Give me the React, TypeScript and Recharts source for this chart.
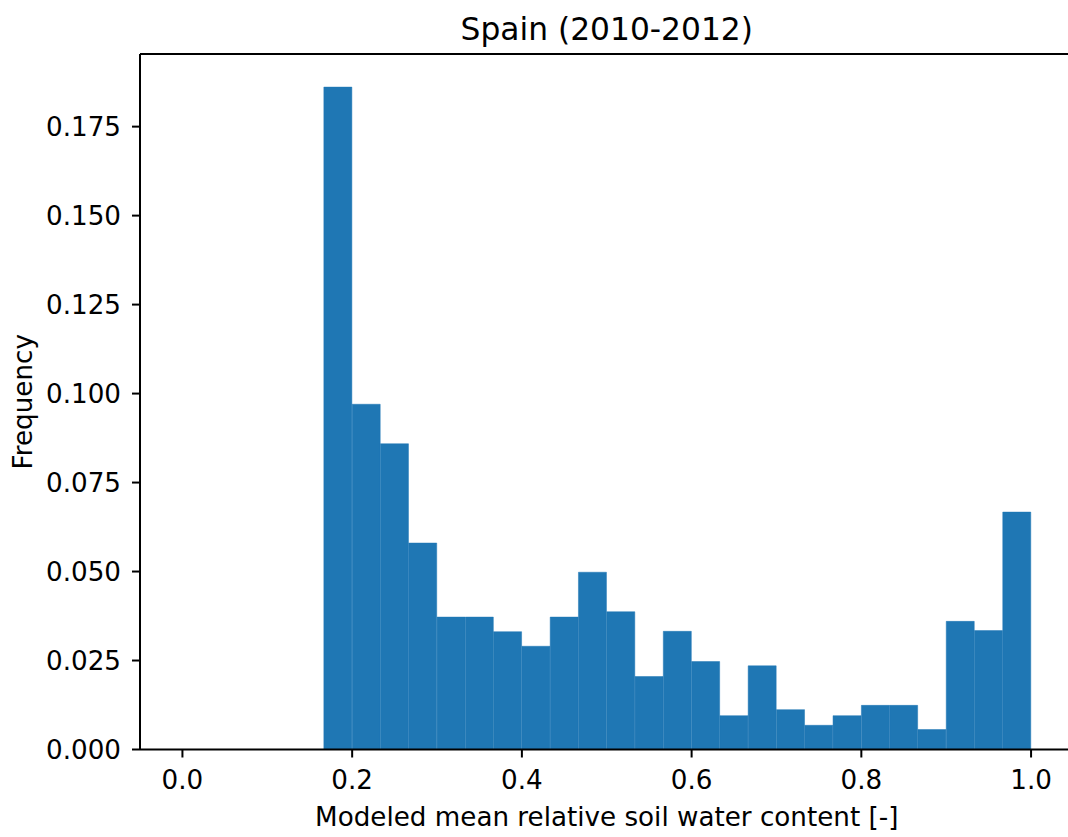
import { BarChart, Bar, XAxis, YAxis, ReferenceLine, Label } from "recharts";

// histogram of 30 bins over [0, 1], bin centres
const binCenters = [
  0.0167, 0.05, 0.0833, 0.1167, 0.15, 0.1833, 0.2167, 0.25, 0.2833, 0.3167,
  0.35, 0.3833, 0.4167, 0.45, 0.4833, 0.5167, 0.55, 0.5833, 0.6167, 0.65,
  0.6833, 0.7167, 0.75, 0.7833, 0.8167, 0.85, 0.8833, 0.9167, 0.95, 0.9833,
];
const frequency = [
  0, 0, 0, 0, 0, 0.1861, 0.097, 0.0859, 0.058, 0.0372,
  0.0372, 0.0331, 0.029, 0.0372, 0.0498, 0.0387, 0.0205, 0.0332, 0.0247, 0.0095,
  0.0235, 0.0112, 0.0068, 0.0095, 0.0124, 0.0124, 0.0056, 0.036, 0.0334, 0.0667,
];
const xTicks = [0, 0.2, 0.4, 0.6, 0.8, 1.0];
const yTicks = [0, 0.025, 0.05, 0.075, 0.1, 0.125, 0.15, 0.175];

const xDomain: [number, number] = [-0.05, 1.05];
const yTop = Math.max(...frequency) * 1.05;

const data = binCenters.map((x, i) => ({ x, freq: frequency[i] }));

const W = 1100;
const H = 837;
const left = 140;
const right = 26.5;

const font = "DejaVu Sans, sans-serif";
const tickStyle = { fill: "#000", fontSize: 26.2, fontFamily: font };

export default function App() {
  return (
    <div
      style={{
        position: "absolute",
        left: 0,
        top: 0,
        width: 1068,
        height: 837,
        overflow: "hidden",
        background: "#fff",
      }}
    >
      <BarChart
        width={W}
        height={H}
        data={data}
        margin={{ top: 54, right, bottom: 0, left: 0 }}
        barCategoryGap={0}
        barGap={0}
      >
        <XAxis
          dataKey="x"
          type="number"
          domain={xDomain}
          ticks={xTicks}
          tickFormatter={(v: number) => v.toFixed(1)}
          height={87.5}
          tick={tickStyle}
          tickSize={8}
          tickMargin={13}
          axisLine={{ stroke: "#000", strokeWidth: 2 }}
          tickLine={{ stroke: "#000", strokeWidth: 2 }}
          allowDataOverflow
        >
          <Label
            value="Modeled mean relative soil water content [-]"
            position="insideBottom"
            offset={11}
            style={{ fill: "#000", fontSize: 26.2, fontFamily: font }}
          />
        </XAxis>
        <YAxis
          type="number"
          domain={[0, yTop]}
          ticks={yTicks}
          tickFormatter={(v: number) => v.toFixed(3)}
          width={left}
          tick={tickStyle}
          tickSize={8}
          tickMargin={11}
          axisLine={{ stroke: "#000", strokeWidth: 2 }}
          tickLine={{ stroke: "#000", strokeWidth: 2 }}
          allowDataOverflow
        >
          <Label
            value="Frequency"
            angle={-90}
            position="insideLeft"
            offset={23}
            style={{ fill: "#000", fontSize: 26.2, fontFamily: font, textAnchor: "middle" }}
          />
        </YAxis>
        <Bar
          dataKey="freq"
          fill="#1f77b4"
          stroke="#1f77b4"
          strokeWidth={0.5}
          isAnimationActive={false}
        />
        <ReferenceLine y={yTop} stroke="#000" strokeWidth={2}>
          <Label
            value="Spain (2010-2012)"
            position="top"
            offset={14.5}
            style={{ fill: "#000", fontSize: 31.3, fontFamily: font }}
          />
        </ReferenceLine>
        <ReferenceLine x={xDomain[1]} stroke="#000" strokeWidth={2} />
      </BarChart>
    </div>
  );
}
